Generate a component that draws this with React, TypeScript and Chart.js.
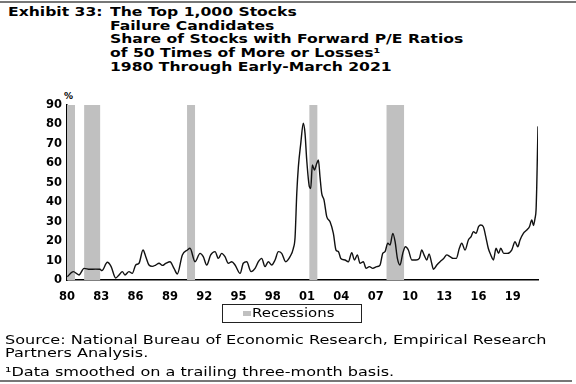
import React, { useEffect, useRef } from "react";
import { Chart, registerables } from "chart.js";

Chart.register(...registerables);

// Share of stocks with forward P/E >= 50x or losses (%), smoothed
const years: number[] = [
  1980.03, 1980.55, 1981.05, 1981.49, 1982.0, 1982.5, 1982.89, 1983.05, 1983.53, 1983.85,
  1984.26, 1984.55, 1984.84, 1985.07, 1985.42, 1985.71, 1986.01, 1986.3, 1986.65, 1986.89,
  1987.17, 1987.46, 1987.76, 1988.05, 1988.34, 1988.64, 1989.01, 1989.36, 1989.65, 1990.09,
  1990.53, 1990.76, 1991.2, 1991.64, 1991.92, 1992.22, 1992.57, 1992.95, 1993.24, 1993.53,
  1993.82, 1994.11, 1994.41, 1994.7, 1995.14, 1995.42, 1995.72, 1996.1, 1996.45, 1996.74,
  1997.03, 1997.32, 1997.61, 1997.91, 1998.2, 1998.49, 1998.78, 1999.13, 1999.51, 1999.8,
  1999.95, 2000.1, 2000.24, 2000.45, 2000.67, 2000.82, 2000.97, 2001.2, 2001.32, 2001.46,
  2001.64, 2001.85, 2001.99, 2002.13, 2002.28, 2002.48, 2002.72, 2003.01, 2003.3, 2003.53,
  2003.74, 2003.95, 2004.32, 2004.61, 2004.91, 2005.14, 2005.4, 2005.63, 2005.92, 2006.16,
  2006.45, 2006.75, 2007.1, 2007.38, 2007.62, 2007.82, 2008.06, 2008.26, 2008.5, 2008.7,
  2008.9, 2009.13, 2009.37, 2009.6, 2009.86, 2010.16, 2010.53, 2010.82, 2011.03, 2011.23,
  2011.47, 2011.67, 2011.9, 2012.05, 2012.35, 2012.63, 2012.95, 2013.22, 2013.5, 2013.8,
  2014.05, 2014.32, 2014.53, 2014.82, 2015.11, 2015.35, 2015.55, 2015.78, 2016.0, 2016.19,
  2016.42, 2016.63, 2016.85, 2017.07, 2017.3, 2017.53, 2017.75, 2017.94, 2018.2, 2018.52,
  2018.9, 2019.19, 2019.43, 2019.63, 2019.92, 2020.22, 2020.45, 2020.66, 2020.8, 2020.94,
  2021.03, 2021.09, 2021.15, 2021.2,
];
const shares: number[] = [
  1.7, 4.3, 2.6, 6.0, 5.5, 5.6, 5.5, 4.8, 9.1, 7.0,
  1.0, 2.6, 4.3, 2.6, 4.3, 3.4, 7.7, 8.6, 15.4, 12.0,
  7.7, 7.0, 7.7, 8.6, 7.5, 8.5, 9.4, 6.0, 3.1, 12.9,
  15.4, 16.3, 9.4, 13.7, 12.0, 7.7, 12.9, 14.6, 11.1, 13.7,
  12.0, 8.6, 9.4, 7.7, 3.4, 8.6, 9.4, 4.3, 6.0, 9.4,
  11.1, 6.9, 9.4, 7.7, 10.3, 14.6, 13.7, 9.4, 12.0, 16.3,
  22.0, 44.6, 58.3, 70.3, 80.6, 75.4, 61.7, 48.0, 47.0, 59.2,
  56.6, 60.0, 61.7, 53.1, 44.6, 41.2, 32.6, 30.0, 24.0, 15.4,
  14.6, 11.1, 10.3, 9.4, 14.0, 10.3, 12.9, 8.6, 9.4, 6.0,
  6.9, 6.0, 6.9, 7.7, 13.7, 14.6, 18.9, 18.0, 24.0, 19.7,
  11.1, 7.7, 13.7, 17.1, 15.4, 10.3, 10.3, 11.1, 15.4, 12.9,
  10.3, 13.4, 8.6, 5.5, 7.7, 9.4, 11.1, 12.9, 12.0, 11.1,
  11.1, 16.3, 18.9, 15.4, 20.6, 22.3, 24.9, 24.0, 27.4, 28.3,
  27.4, 22.3, 16.3, 12.9, 10.3, 16.3, 13.7, 16.3, 13.7, 13.7,
  15.4, 19.7, 17.1, 20.6, 24.0, 25.7, 27.4, 30.9, 28.0, 31.7,
  36.0, 48.0, 65.0, 79.0,
];

// NBER recessions (start, end as fractional years)
const recessionStarts: number[] = [1980.0, 1981.5, 1990.5, 2001.2, 2007.95];
const recessionEnds: number[] = [1980.7, 1982.9, 1991.2, 2001.9, 2009.5];

const xTickYears: number[] = [1980, 1983, 1986, 1989, 1992, 1995, 1998, 2001, 2004, 2007, 2010, 2013, 2016, 2019];
const yTickValues: number[] = [0, 10, 20, 30, 40, 50, 60, 70, 80, 90];

const titleLabel = "Exhibit 33:";
const titleLines: string[] = [
  "The Top 1,000 Stocks",
  "Failure Candidates",
  "Share of Stocks with Forward P/E Ratios",
  "of 50 Times of More or Losses\u00B9",
  "1980 Through Early-March 2021",
];
const legendLabel = "Recessions";
const sourceLines: string[] = [
  "Source: National Bureau of Economic Research, Empirical Research",
  "Partners Analysis.",
];
const footnote = "\u00B9Data smoothed on a trailing three-month basis.";

const Y_MAX = 90;
const RECESSION_COLOR = "#c0c0c0";

function ChartCanvas() {
  const ref = useRef<HTMLCanvasElement | null>(null);
  useEffect(() => {
    if (!ref.current) return;
    const recessionPoints: { x: number; y: number }[] = [];
    recessionStarts.forEach((s, i) => {
      const e = recessionEnds[i];
      recessionPoints.push({ x: s, y: 0 }, { x: s, y: Y_MAX }, { x: e, y: Y_MAX }, { x: e, y: 0 });
    });
    const linePoints = years.map((x, i) => ({ x, y: shares[i] }));
    const tickFont = { family: "'DejaVu Sans', sans-serif", size: 11.5, weight: "bold" as const };
    const chart = new Chart(ref.current, {
      type: "line",
      data: {
        datasets: [
          {
            label: legendLabel,
            data: recessionPoints,
            fill: "origin",
            backgroundColor: RECESSION_COLOR,
            borderColor: RECESSION_COLOR,
            borderWidth: 0,
            pointRadius: 0,
            tension: 0,
            order: 2,
          },
          {
            label: "Share",
            data: linePoints,
            fill: false,
            borderColor: "#111",
            borderWidth: 1.4,
            pointRadius: 0,
            cubicInterpolationMode: "monotone",
            order: 1,
          },
        ],
      },
      options: {
        animation: false,
        responsive: false,
        maintainAspectRatio: false,
        events: [],
        layout: { padding: { left: 0, right: 38, top: 105, bottom: 80 } },
        plugins: {
          title: { display: false },
          tooltip: { enabled: false },
          legend: { display: false },
        },
        scales: {
          x: {
            type: "linear",
            min: 1980,
            max: 2021.2,
            grid: { display: false, drawTicks: false, tickLength: 0 },
            border: { display: true, color: "#000", width: 1.5 },
            afterBuildTicks: (scale: any) => {
              scale.ticks = xTickYears.map((v) => ({ value: v }));
            },
            afterFit: (scale: any) => {
              scale.height = 24;
            },
            ticks: {
              autoSkip: false,
              maxRotation: 0,
              padding: 10,
              color: "#000",
              font: tickFont,
              callback: (v: any) => String(Number(v) % 100).padStart(2, "0"),
            },
          },
          y: {
            type: "linear",
            min: 0,
            max: Y_MAX,
            grid: { display: false, drawTicks: false, tickLength: 0 },
            border: { display: true, color: "#000", width: 1.5 },
            afterBuildTicks: (scale: any) => {
              scale.ticks = yTickValues.map((v) => ({ value: v }));
            },
            afterFit: (scale: any) => {
              scale.width = 67;
            },
            ticks: {
              padding: 5,
              color: "#000",
              font: tickFont,
            },
          },
        },
      },
    });
    return () => chart.destroy();
  }, []);
  return <canvas ref={ref} width={576} height={384} style={{ position: "absolute", left: 0, top: 0, width: 576, height: 384 }} />;
}

const stretch = (k: number): React.CSSProperties => ({
  transform: `scaleX(${k})`,
  transformOrigin: "left top",
  whiteSpace: "nowrap",
});

export default function App() {
  return (
    <div
      style={{
        position: "absolute",
        left: 0,
        top: 0,
        width: 576,
        height: 384,
        background: "#fff",
        overflow: "hidden",
        fontFamily: "'DejaVu Sans', sans-serif",
        color: "#000",
      }}
    >
      <div style={{ position: "absolute", left: 0, top: 1, width: 576, height: 2, background: "#777" }} />
      <div style={{ position: "absolute", left: 8, top: 6, fontWeight: "bold", fontSize: 12, lineHeight: "13.7px", ...stretch(1.3) }}>
        {titleLabel}
      </div>
      <div style={{ position: "absolute", left: 110, top: 6, fontWeight: "bold", fontSize: 12, lineHeight: "13.7px", ...stretch(1.3) }}>
        {titleLines.map((l, i) => (
          <div key={i}>{l}</div>
        ))}
      </div>
      <div style={{ position: "absolute", left: 64, top: 91, fontWeight: "bold", fontSize: 9 }}>%</div>
      <ChartCanvas />
      <div
        style={{
          position: "absolute",
          left: 222,
          top: 304,
          width: 138,
          height: 17,
          border: "1.2px solid #222",
        }}
      >
        <div style={{ position: "absolute", left: 20, top: 6, width: 8, height: 5, background: RECESSION_COLOR }} />
        <div style={{ position: "absolute", left: 29, top: 1, fontSize: 11.5, lineHeight: "15px", ...stretch(1.3) }}>{legendLabel}</div>
      </div>
      <div style={{ position: "absolute", left: 5, top: 334, fontSize: 12, lineHeight: "13px", ...stretch(1.34) }}>
        {sourceLines.map((l, i) => (
          <div key={i}>{l}</div>
        ))}
      </div>
      <div style={{ position: "absolute", left: 5, top: 366, fontSize: 12, lineHeight: "13px", ...stretch(1.34) }}>{footnote}</div>
      <div style={{ position: "absolute", left: 0, top: 380, width: 572, height: 2, background: "#777" }} />
    </div>
  );
}
